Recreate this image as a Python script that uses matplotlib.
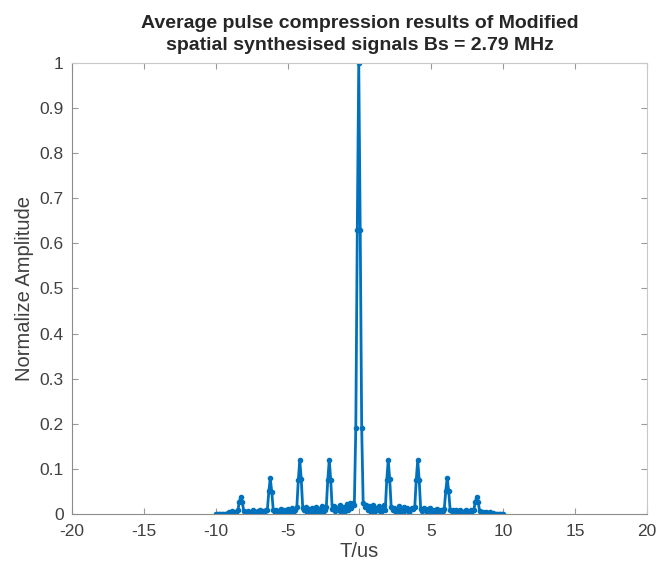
import numpy as np
import matplotlib.pyplot as plt

# time axis of the averaged compressed pulse (us)
t_start = -10.0
t_stop = 10.0

# normalised amplitude, sampled evenly between t_start and t_stop
amp_left = [
    0.000, 0.000, 0.000, 0.001, 0.000, 0.001, 0.000, 0.001, 0.002,
    0.004, 0.003, 0.006, 0.002, 0.005, 0.004, 0.008,
    0.027, 0.038, 0.026,
    0.007, 0.004, 0.003, 0.006, 0.002, 0.004, 0.008, 0.003, 0.005,
    0.002, 0.006, 0.009, 0.004, 0.007, 0.003, 0.010, 0.008,
    0.050, 0.079, 0.049,
    0.010, 0.004, 0.008, 0.003, 0.006, 0.012, 0.005, 0.002, 0.009,
    0.004, 0.011, 0.006, 0.003, 0.014, 0.007, 0.010, 0.015,
    0.075, 0.120, 0.077,
    0.014, 0.008, 0.016, 0.004, 0.011, 0.006, 0.013, 0.003, 0.009,
    0.015, 0.005, 0.012, 0.007, 0.017, 0.004, 0.010, 0.016,
    0.076, 0.120, 0.075,
    0.012, 0.018, 0.006, 0.014, 0.008, 0.020, 0.005, 0.011, 0.016,
    0.007, 0.022, 0.009, 0.024, 0.013, 0.025, 0.020,
]
amp_main = [0.190, 0.630, 1.000, 0.630, 0.190]
amp_right = [
    0.024, 0.015, 0.021, 0.008, 0.018, 0.004, 0.012, 0.019, 0.006,
    0.014, 0.009, 0.017, 0.005, 0.013, 0.020, 0.010,
    0.076, 0.120, 0.077,
    0.016, 0.009, 0.014, 0.005, 0.012, 0.017, 0.006, 0.011, 0.004,
    0.015, 0.008, 0.013, 0.003, 0.010, 0.014, 0.012, 0.016,
    0.076, 0.120, 0.075,
    0.012, 0.006, 0.014, 0.009, 0.004, 0.011, 0.013, 0.005, 0.010,
    0.003, 0.008, 0.012, 0.006, 0.004, 0.009, 0.007, 0.011,
    0.051, 0.080, 0.050,
    0.009, 0.006, 0.010, 0.004, 0.008, 0.003, 0.007, 0.010, 0.005,
    0.002, 0.006, 0.009, 0.004, 0.003, 0.008, 0.006, 0.009,
    0.026, 0.038, 0.027,
    0.006, 0.003, 0.005, 0.002, 0.004, 0.001, 0.003, 0.004, 0.001,
    0.002, 0.001, 0.000, 0.001, 0.000, 0.000, 0.000, 0.000,
]
amp = np.array(amp_left + amp_main + amp_right)
t = np.linspace(t_start, t_stop, len(amp))

x_ticks = np.arange(-20, 21, 5)
y_ticks = np.round(np.arange(0, 1.01, 0.1), 1)

plt.rcParams['font.family'] = ['Liberation Sans', 'DejaVu Sans']

fig = plt.figure(figsize=(6.72, 5.71), dpi=100)
ax = fig.add_axes([0.1071, 0.0998, 0.8557, 0.7899])

ax.plot(t, amp, color='#0072BD', lw=2.0, marker='.', ms=6)

ax.set_xlim(-20, 20)
ax.set_ylim(0, 1)
ax.set_xticks(x_ticks)
ax.set_yticks(y_ticks)
ax.set_xticklabels(['%d' % v for v in x_ticks])
ax.set_yticklabels(['%g' % v for v in y_ticks])

ax.tick_params(direction='in', top=True, right=True, length=4, width=0.8,
               color='#999999', labelcolor='#404040', labelsize=12.5)
ax.tick_params(axis='x', pad=7)
ax.tick_params(axis='y', pad=6)
for side in ['left', 'bottom']:
    ax.spines[side].set_color('#8c8c8c')
for side in ['top', 'right']:
    ax.spines[side].set_color('#c8c8c8')

ax.set_xlabel('T/us', fontsize=14.5, color='#404040', labelpad=2)
ax.set_ylabel('Normalize Amplitude', fontsize=14.5, color='#404040', labelpad=4)
ax.set_title('Average pulse compression results of Modified\n'
             'spatial synthesised signals Bs = 2.79 MHz',
             fontsize=14, fontweight='bold', color='#262626', pad=9, linespacing=1.45)

fig.savefig('out.png', dpi=100)
